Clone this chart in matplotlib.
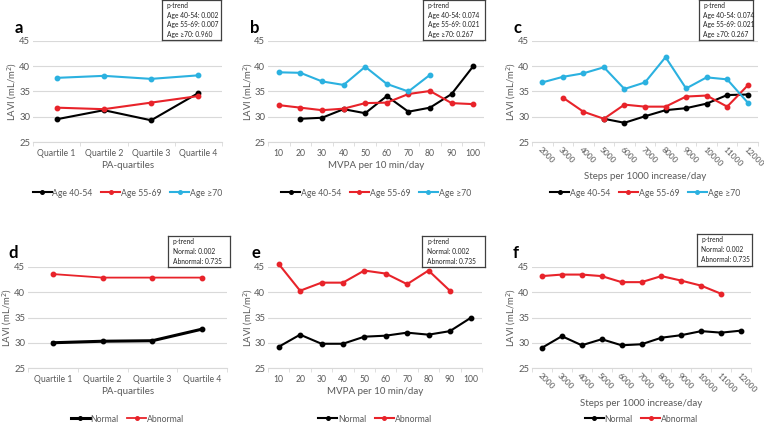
import numpy as np
import matplotlib
matplotlib.use('Agg')
import matplotlib.pyplot as plt
import matplotlib.transforms as mtransforms
from matplotlib.ticker import FixedLocator

plt.rcParams['font.family'] = ['Lato', 'DejaVu Sans']

nan = np.nan

# categories
quartiles = ['Quartile 1', 'Quartile 2', 'Quartile 3', 'Quartile 4']
mvpa = ['10', '20', '30', '40', '50', '60', '70', '80', '90', '100']
steps = ['2000', '3000', '4000', '5000', '6000', '7000', '8000', '9000',
         '10000', '11000', '12000']

# panel a: PA quartiles by age
a_40_54 = [29.5, 31.3, 29.3, 34.7]
a_55_69 = [31.8, 31.5, 32.8, 34.1]
a_70 = [37.7, 38.1, 37.5, 38.2]

# panel b: MVPA by age
b_40_54 = [nan, 29.6, 29.8, 31.5, 30.7, 34.1, 31.0, 31.8, 34.5, 40.0]
b_55_69 = [32.3, 31.8, 31.3, 31.6, 32.7, 32.8, 34.5, 35.1, 32.7, 32.5]
b_70 = [38.8, 38.7, 37.0, 36.3, 39.9, 36.5, 35.0, 38.3, nan, nan]

# panel c: steps by age
c_40_54 = [nan, nan, nan, 29.6, 28.8, 30.1, 31.3, 31.7, 32.6, 34.3, 34.4]
c_55_69 = [nan, 33.8, 31.0, 29.6, 32.4, 32.0, 32.0, 34.0, 34.2, 32.0, 36.2]
c_70 = [36.8, 37.9, 38.6, 39.8, 35.5, 36.8, 41.8, 35.6, 37.8, 37.4, 32.8]

# panels d-f: normal vs abnormal
d_norm = [30.0, 30.3, 30.4, 32.7]
d_abn = [43.6, 42.9, 42.9, 42.9]
e_norm = [29.2, 31.6, 29.8, 29.8, 31.2, 31.4, 32.0, 31.6, 32.3, 35.0]
e_abn = [45.6, 40.3, 41.9, 41.9, 44.3, 43.7, 41.6, 44.3, 40.3, nan]
f_norm = [29.0, 31.3, 29.5, 30.7, 29.5, 29.7, 31.0, 31.5, 32.3, 32.0, 32.4]
f_abn = [43.2, 43.5, 43.5, 43.2, 42.0, 42.0, 43.2, 42.3, 41.3, 39.7, nan]

age_labels = ['Age 40-54', 'Age 55-69', 'Age \u226570']
grp_labels = ['Normal', 'Abnormal']
age_p_ab = ['Age 40-54: 0.002', 'Age 55-69: 0.007', 'Age \u226570: 0.960']
age_p_bc = ['Age 40-54: 0.074', 'Age 55-69: 0.021', 'Age \u226570: 0.267']
grp_p = ['Normal: 0.002', 'Abnormal: 0.735']

BLACK = '#000000'
RED = '#e8232a'
BLUE = '#2bb1e0'
GRAY = '#595959'

W, H = 764, 422
fig = plt.figure(figsize=(W / 100, H / 100), dpi=100)


def px_axes(x0, x1, ytop, ybot):
    return fig.add_axes([x0 / W, 1 - ybot / H, (x1 - x0) / W, (ybot - ytop) / H])


def panel(rect, cats, series, colors, labels, xlabel, letter, letter_xy,
          ptext, box, leg_y, xl_y, ylab_x, rotate=False, lws=None):
    ax = px_axes(*rect)
    x = np.arange(len(cats))
    if lws is None:
        lws = [1.5] * len(series)
    for s, c, lab, lw in zip(series, colors, labels, lws):
        ax.plot(x, s, color=c, lw=lw, marker='o', ms=3.2, label=lab,
                clip_on=False)
    ax.set_xlim(-0.5, len(cats) - 0.5)
    ax.set_ylim(25, 45)
    ax.set_yticks([25, 30, 35, 40, 45])
    ax.yaxis.grid(True, color='#d9d9d9', lw=0.8)
    ax.set_axisbelow(True)
    for sp in ['top', 'right', 'left']:
        ax.spines[sp].set_visible(False)
    ax.spines['bottom'].set_color('#d9d9d9')
    ax.xaxis.set_minor_locator(FixedLocator(np.arange(len(cats) + 1) - 0.5))
    ax.tick_params(axis='x', which='minor', length=3, color='#d9d9d9')
    ax.tick_params(axis='y', length=0, pad=2, labelsize=6.8, labelcolor=GRAY)
    if rotate:
        # slanted category labels, drawn as plain texts under each category
        ax.set_xticks(x, [''] * len(cats))
        ax.tick_params(axis='x', which='major', length=0)
        trans = mtransforms.blended_transform_factory(ax.transData, ax.transAxes)
        for i, c in enumerate(cats):
            ax.text(i - 0.15, -0.06, c, transform=trans, rotation=-45,
                    rotation_mode='anchor', ha='left', va='center',
                    fontsize=6, color=GRAY)
    else:
        ax.set_xticks(x, cats)
        ax.tick_params(axis='x', which='major', length=0, pad=5,
                       labelsize=6.2, labelcolor=GRAY)
    cy = (rect[2] + rect[3]) / 2
    fig.text(ylab_x / W, 1 - cy / H, 'LAVI (mL/m$^2$)', fontsize=6.8,
             color=GRAY, rotation=90, ha='center', va='center')
    cx = (rect[0] + rect[1]) / 2
    fig.text(cx / W, 1 - xl_y / H, xlabel, fontsize=7, color=GRAY,
             ha='center', va='center')
    fig.text(letter_xy[0] / W, 1 - letter_xy[1] / H, letter, fontsize=12,
             fontweight='bold', ha='left', va='center')
    fig.legend(*ax.get_legend_handles_labels(), loc='center',
               bbox_to_anchor=(cx / W, 1 - leg_y / H), ncol=len(series),
               frameon=False, fontsize=6.2, handlelength=2.2,
               handletextpad=0.1, columnspacing=1.0, labelcolor=GRAY,
               markerscale=0.8)
    bx0, bx1, by0, by1 = box
    bax = fig.add_axes([bx0 / W, 1 - by1 / H, (bx1 - bx0) / W, (by1 - by0) / H])
    bax.set_xticks([])
    bax.set_yticks([])
    for sp in bax.spines.values():
        sp.set_color('#404040')
        sp.set_linewidth(0.9)
    lines = ['p-trend'] + ptext
    n = len(lines)
    for i, s in enumerate(lines):
        bax.text(0.08, 1 - (i + 0.6) / (n + 0.2), s, fontsize=4.8,
                 color='#222222', transform=bax.transAxes, va='center')
    return ax


age_cols = [BLACK, RED, BLUE]
grp_cols = [BLACK, RED]

panel((33, 222, 41, 142), quartiles, [a_40_54, a_55_69, a_70], age_cols,
      age_labels, 'PA-quartiles', 'a', (15, 28), age_p_ab, (162, 221, 0, 40),
      193, 165, 12)
panel((268, 484, 41, 142), mvpa, [b_40_54, b_55_69, b_70], age_cols,
      age_labels, 'MVPA per 10 min/day', 'b', (250, 28), age_p_bc,
      (423, 485, 0, 40), 193, 165, 248)
panel((532, 758, 41, 142), steps, [c_40_54, c_55_69, c_70], age_cols,
      age_labels, 'Steps per 1000 increase/day', 'c', (513, 28), age_p_bc,
      (699, 753, 0, 40), 193, 177, 511, rotate=True)
panel((28, 227, 267, 368), quartiles, [d_norm, d_abn], grp_cols,
      grp_labels, 'PA-quartiles', 'd', (8, 253), grp_p, (168, 230, 236, 267),
      419, 391, 7, lws=[2.2, 1.3])
panel((268, 482, 267, 368), mvpa, [e_norm, e_abn], grp_cols,
      grp_labels, 'MVPA per 10 min/day', 'e', (252, 253), grp_p,
      (422, 485, 236, 267), 419, 391, 248)
panel((532, 751, 267, 368), steps, [f_norm, f_abn], grp_cols,
      grp_labels, 'Steps per 1000 increase/day', 'f', (513, 253), grp_p,
      (697, 752, 234, 266), 419, 403, 511, rotate=True)

fig.savefig('out.png', dpi=100)
